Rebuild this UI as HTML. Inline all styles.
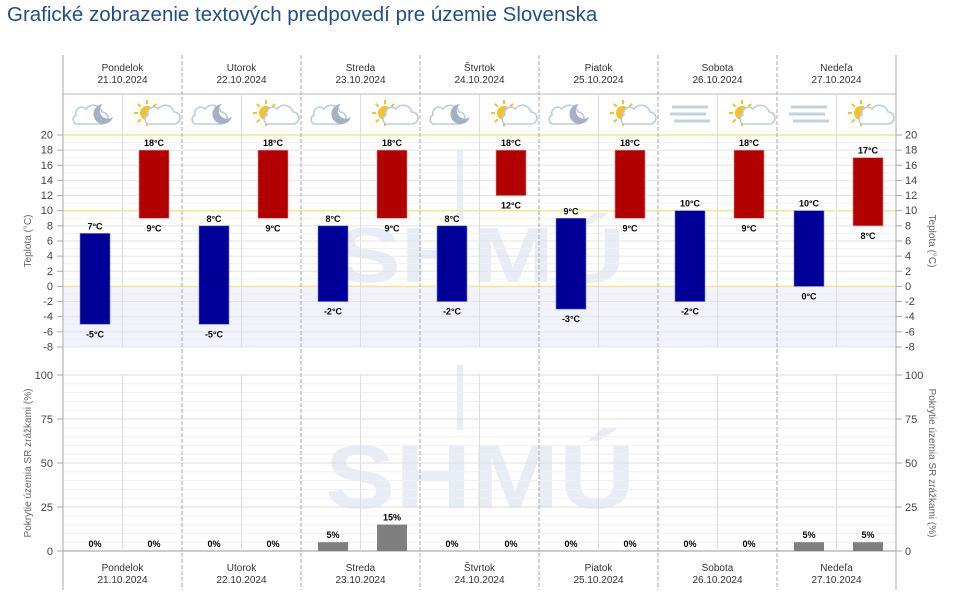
<!DOCTYPE html>
<html><head><meta charset="utf-8"><style>
body{margin:0;background:#fff;width:960px;height:598px;overflow:hidden;font-family:"Liberation Sans",sans-serif}
#t{position:absolute;left:7px;top:3px;font-size:20.5px;color:#1f4e8c}
svg{position:absolute;left:0;top:0}
</style></head><body>
<div id="t">Grafické zobrazenie textových predpovedí pre územie Slovenska</div>
<svg id="s" width="960" height="598" xmlns="http://www.w3.org/2000/svg" font-family="Liberation Sans, sans-serif"></svg>
<script>
var L=63,W=119,R=896;
var days=[["Pondelok","21.10.2024"],["Utorok","22.10.2024"],["Streda","23.10.2024"],["Štvrtok","24.10.2024"],["Piatok","25.10.2024"],["Sobota","26.10.2024"],["Nedeľa","27.10.2024"]];
var nt=[[7,-5],[8,-5],[8,-2],[8,-2],[9,-3],[10,-2],[10,0]];
var dt=[[18,9],[18,9],[18,9],[18,12],[18,9],[18,9],[17,8]];
var np=[0,0,5,0,0,0,5],dp=[0,0,15,0,0,0,5];
function Y(t){return 286.4-7.571*t}
function P(p){return 551-1.76*p}
var s='';
// watermark
s+='<text x="480" y="282" text-anchor="middle" font-size="78" font-weight="bold" fill="#e8ecf4" textLength="290" lengthAdjust="spacingAndGlyphs">SHMÚ</text>';
s+='<text x="480" y="508" text-anchor="middle" font-size="90" font-weight="bold" fill="#e8ecf4" textLength="310" lengthAdjust="spacingAndGlyphs">SHMÚ</text>';
s+='<rect x="457" y="150" width="6" height="70" fill="#e8ecf4"/><rect x="457" y="365" width="6" height="65" fill="#e8ecf4"/>';
// negative fill
s+='<rect x="'+L+'" y="'+Y(0)+'" width="'+(R-L)+'" height="'+(Y(-8)-Y(0))+'" fill="#eef0fb" opacity=".85"/>';
for(var t=-8;t<=20;t++){var y=Y(t);s+='<line x1="'+L+'" x2="'+R+'" y1="'+y+'" y2="'+y+'" stroke="'+(t%2?'#f0f0f0':'#e4e4e4')+'"/>';}
[0,10,20].forEach(function(t){s+='<line x1="'+L+'" x2="'+R+'" y1="'+Y(t)+'" y2="'+Y(t)+'" stroke="#f3e88a" stroke-width="1.5"/>';});
for(var t=-8;t<=20;t+=2){var y=Y(t)+3.5;s+='<text x="53" y="'+y+'" font-size="11" text-anchor="end" fill="#444">'+t+'</text><text x="905" y="'+y+'" font-size="11" fill="#444">'+t+'</text>';s+='<line x1="57" x2="63" y1="'+Y(t)+'" y2="'+Y(t)+'" stroke="#aaa"/><line x1="896" x2="902" y1="'+Y(t)+'" y2="'+Y(t)+'" stroke="#aaa"/>';}
for(var p=0;p<=100;p+=5){var y=P(p);s+='<line x1="'+L+'" x2="'+R+'" y1="'+y+'" y2="'+y+'" stroke="'+(p%25?'#f0f0f0':'#dedede')+'"/>';}
for(var p=0;p<=100;p+=25){var y=P(p)+4;s+='<text x="53" y="'+y+'" font-size="11" text-anchor="end" fill="#444">'+p+'</text><text x="905" y="'+y+'" font-size="11" fill="#444">'+p+'</text>';s+='<line x1="57" x2="63" y1="'+P(p)+'" y2="'+P(p)+'" stroke="#aaa"/><line x1="896" x2="902" y1="'+P(p)+'" y2="'+P(p)+'" stroke="#aaa"/>';}
s+='<line x1="63" x2="896" y1="551" y2="551" stroke="#999"/>';
s+='<text transform="translate(31,241) rotate(-90)" font-size="10" text-anchor="middle" fill="#666">Teplota (°C)</text>';
s+='<text transform="translate(929,241) rotate(90)" font-size="10" text-anchor="middle" fill="#666">Teplota (°C)</text>';
s+='<text transform="translate(31,463) rotate(-90)" font-size="10" text-anchor="middle" fill="#666">Pokrytie územia SR zrážkami (%)</text>';
s+='<text transform="translate(929,463) rotate(90)" font-size="10" text-anchor="middle" fill="#666">Pokrytie územia SR zrážkami (%)</text>';
s+='<line x1="63" x2="896" y1="94" y2="94" stroke="#bbb"/>';
function cloud(x,y){return '<path d="M'+(x-12)+' '+(y+8)+'h26a6 6 0 0 0 0-12a9 9 0 0 0-16-3a6 6 0 0 0-10 6a5 5 0 0 0 0 9z" fill="#fff" stroke="#b9cde0" stroke-width="1.6"/>';}
function moon(x,y){return '<path d="M'+x+' '+(y-10)+'a10 10 0 1 0 10 13a8 8 0 1 1-10-13z" fill="#a7afc2"/>';}
function sun(x,y){var r='';for(var a=0;a<360;a+=45){var c=Math.cos(a*Math.PI/180),si=Math.sin(a*Math.PI/180);r+='<line x1="'+(x+c*9)+'" y1="'+(y+si*9)+'" x2="'+(x+c*13)+'" y2="'+(y+si*13)+'" stroke="#f2c12e" stroke-width="2"/>';}return r+'<circle cx="'+x+'" cy="'+y+'" r="7" fill="#f2c12e"/>';}
function fog(x,y){return '<g stroke="#c2d2df" stroke-width="3"><line x1="'+(x-18)+'" x2="'+(x+18)+'" y1="'+(y-7)+'" y2="'+(y-7)+'"/><line x1="'+(x-20)+'" x2="'+(x+16)+'" y1="'+y+'" y2="'+y+'"/><line x1="'+(x-16)+'" x2="'+(x+20)+'" y1="'+(y+7)+'" y2="'+(y+7)+'"/></g>';}
for(var i=0;i<7;i++){
 var x0=L+i*W,xm=x0+W/2;
 s+='<line x1="'+xm+'" x2="'+xm+'" y1="94" y2="347" stroke="#ddd"/><line x1="'+xm+'" x2="'+xm+'" y1="375" y2="551" stroke="#ddd"/>';
 s+='<line x1="'+x0+'" x2="'+x0+'" y1="55" y2="590" stroke="#aaa"'+(i?' stroke-dasharray="4,2"':'')+'/>';
 s+='<text x="'+xm+'" y="71" font-size="10" text-anchor="middle" fill="#333">'+days[i][0]+'</text><text x="'+xm+'" y="83" font-size="10" text-anchor="middle" fill="#333">'+days[i][1]+'</text>';
 s+='<text x="'+xm+'" y="571" font-size="10" text-anchor="middle" fill="#333">'+days[i][0]+'</text><text x="'+xm+'" y="583" font-size="10" text-anchor="middle" fill="#333">'+days[i][1]+'</text>';
 var nc=x0+32,dc=x0+91;
 if(i<5){s+=cloud(nc-7,116)+moon(nc+8,114);}else{s+=fog(nc,114);}
 s+=sun(dc-7,113)+cloud(dc+6,116);
 var n=nt[i],d=dt[i];
 s+='<rect x="'+(x0+17)+'" y="'+Y(n[0])+'" width="30" height="'+(Y(n[1])-Y(n[0]))+'" fill="#000099" stroke="#6f7fe0" stroke-width=".6"/>';
 s+='<rect x="'+(x0+76)+'" y="'+Y(d[0])+'" width="30" height="'+(Y(d[1])-Y(d[0]))+'" fill="#b20000" stroke="#ee8888" stroke-width=".6"/>';
 s+='<text x="'+(x0+32)+'" y="'+(Y(n[0])-4)+'" font-size="9" font-weight="bold" text-anchor="middle">'+n[0]+'°C</text>';
 s+='<text x="'+(x0+32)+'" y="'+(Y(n[1])+13)+'" font-size="9" font-weight="bold" text-anchor="middle">'+n[1]+'°C</text>';
 s+='<text x="'+(x0+91)+'" y="'+(Y(d[0])-4)+'" font-size="9" font-weight="bold" text-anchor="middle">'+d[0]+'°C</text>';
 s+='<text x="'+(x0+91)+'" y="'+(Y(d[1])+13)+'" font-size="9" font-weight="bold" text-anchor="middle">'+d[1]+'°C</text>';
 [[np[i],x0+17],[dp[i],x0+76]].forEach(function(q){
  if(q[0]>0)s+='<rect x="'+q[1]+'" y="'+P(q[0])+'" width="30" height="'+(551-P(q[0]))+'" fill="#7f7f7f"/>';
  s+='<text x="'+(q[1]+15)+'" y="'+(P(q[0])-4)+'" font-size="9" font-weight="bold" text-anchor="middle">'+q[0]+'%</text>';
 });
}
s+='<line x1="896" x2="896" y1="55" y2="590" stroke="#aaa"/>';
document.getElementById('s').innerHTML=s;
</script>
</body></html>
